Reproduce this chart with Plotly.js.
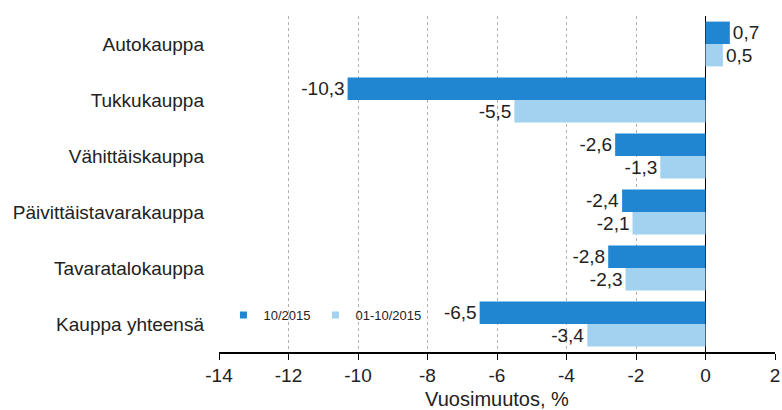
<!DOCTYPE html>
<html>
<head>
<meta charset="utf-8">
<script src="https://cdn.plot.ly/plotly-3.0.1.min.js"></script>
<style>html,body{margin:0;padding:0;background:#fff;}#chart{width:782px;height:410px;}</style>
</head>
<body>
<div id="chart"></div>
<script>
const categories = ["Autokauppa","Tukkukauppa","Vähittäiskauppa","Päivittäistavarakauppa","Tavaratalokauppa","Kauppa yhteensä"];
const seriesNames = ["10/2015","01-10/2015"];
const month = [0.7,-10.3,-2.6,-2.4,-2.8,-6.5];
const ytd = [0.5,-5.5,-1.3,-2.1,-2.3,-3.4];
const xTicks = [-14,-12,-10,-8,-6,-4,-2,0,2];
const colors = ['#2186d2','#a3d1f0'];

const fmt = v => v.toFixed(1).replace('.', ',');
const font = "Liberation Sans, Arial, sans-serif";

const series = [month, ytd];
const traces = series.map((vals, i) => ({
  type:'bar', orientation:'h', name:seriesNames[i], y:categories, x:vals,
  marker:{color:colors[i]}, text:vals.map(fmt), textposition:'outside',
  constraintext:'none',
  textfont:{size:19,color:'#222',family:font}, cliponaxis:false,
  showlegend:false, hoverinfo:'x'
}));
seriesNames.forEach((n, i) => traces.push({
  type:'scatter', mode:'markers', name:n, x:[null], y:[null],
  marker:{symbol:'square', size:7, color:colors[i]}, showlegend:true, hoverinfo:'skip'
}));

const layout = {
  width:782, height:410,
  margin:{l:219, r:7, t:16, b:58},
  paper_bgcolor:'#fff', plot_bgcolor:'#fff',
  font:{family:font, size:14, color:'#222'},
  barmode:'group', bargap:0.2, bargroupgap:0,
  showlegend:true,
  legend:{orientation:'h', x:0.008, y:0.11, xanchor:'left', yanchor:'middle',
    font:{size:13,color:'#222'}, bgcolor:'rgba(0,0,0,0)', itemwidth:30, tracegroupgap:0},
  xaxis:{range:[-14,2], tickvals:xTicks, ticktext:xTicks.map(String),
    showgrid:true, gridcolor:'#b0b0b0', griddash:'dot', gridwidth:1,
    zeroline:true, zerolinecolor:'#000', zerolinewidth:1.5,
    showline:true, linecolor:'#000', linewidth:1.5,
    ticks:'outside', ticklen:6, tickcolor:'#000', tickwidth:1,
    tickfont:{size:19,color:'#222'},
    title:{text:'Vuosimuutos, %', font:{size:20,color:'#222'}, standoff:8}},
  yaxis:{autorange:'reversed', showgrid:false, zeroline:false, showline:false,
    ticks:'', ticklabelstandoff:14, tickfont:{size:19,color:'#222'}}
};

Plotly.newPlot('chart', traces, layout, {displayModeBar:false, staticPlot:true});
</script>
</body>
</html>
